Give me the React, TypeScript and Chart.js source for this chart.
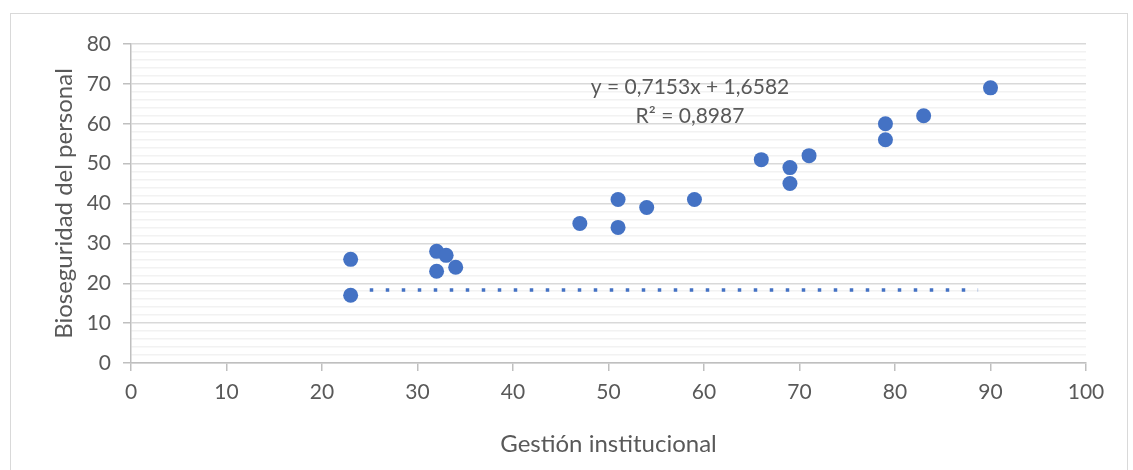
import React, { useEffect, useRef } from "react";
import { Chart, registerables } from "chart.js";

Chart.register(...registerables);

const gestionX = [23, 23, 32, 33, 32, 34, 47, 51, 51, 54, 59, 66, 69, 69, 71, 79, 79, 83, 90];
const bioseguridadY = [26, 17, 28, 27, 23, 24, 35, 41, 34, 39, 41, 51, 49, 45, 52, 60, 56, 62, 69];
const trendX = [25, 88.7];
const trendY = [18.3, 18.3];
const equationLines = ["y = 0,7153x + 1,6582", "R² = 0,8987"];
const xTitle = "Gestión institucional";
const yTitle = "Bioseguridad del personal";

const FONT = "Lato, 'Open Sans', sans-serif";
const TEXT = "#595959";

export default function App() {
  const ref = useRef<HTMLCanvasElement | null>(null);

  useEffect(() => {
    document.body.style.margin = "0";
    const canvas = ref.current;
    if (!canvas) return;

    const equationPlugin = {
      id: "equation",
      afterDatasetsDraw(chart: any) {
        const { ctx, chartArea } = chart;
        ctx.save();
        ctx.fillStyle = TEXT;
        ctx.font = `21px ${FONT}`;
        ctx.textAlign = "center";
        ctx.textBaseline = "middle";
        const cx = chartArea.left + 559;
        ctx.fillText(equationLines[0], cx, chartArea.top + 43);
        ctx.fillText(equationLines[1], cx, chartArea.top + 72);
        ctx.restore();
      },
    };

    const chart = new Chart(canvas, {
      type: "scatter",
      data: {
        datasets: [
          {
            label: "datos",
            data: gestionX.map((x, i) => ({ x, y: bioseguridadY[i] })),
            backgroundColor: "#4472C4",
            borderColor: "#4472C4",
            pointRadius: 7.5,
            pointHoverRadius: 7.5,
            borderWidth: 0,
          },
          {
            label: "tendencia",
            data: trendX.map((x, i) => ({ x, y: trendY[i] })),
            showLine: true,
            borderColor: "#4472C4",
            borderWidth: 3.5,
            borderDash: [3.5, 12.5],
            borderCapStyle: "butt",
            pointRadius: 0,
            fill: false,
          } as any,
        ],
      },
      options: {
        animation: false,
        responsive: false,
        maintainAspectRatio: false,
        layout: { padding: { left: 0, top: 44, right: 47, bottom: 0 } },
        plugins: {
          legend: { display: false },
          tooltip: { enabled: false },
        },
        scales: {
          x: {
            type: "linear",
            min: 0,
            max: 100,
            afterFit(scale: any) {
              scale.height = 107;
            },
            ticks: {
              stepSize: 10,
              color: TEXT,
              font: { family: FONT, size: 21 },
              padding: 9,
            },
            grid: {
              drawOnChartArea: false,
              color: "#bfbfbf",
              tickLength: 8,
              lineWidth: 1.5,
            },
            border: { color: "#bfbfbf", width: 1.5 },
            title: {
              display: true,
              text: xTitle,
              color: TEXT,
              font: { family: FONT, size: 24 },
              padding: { top: 0, bottom: 11 },
            },
          },
          y: {
            type: "linear",
            min: 0,
            max: 80,
            afterFit(scale: any) {
              scale.width = 131;
            },
            ticks: {
              stepSize: 2,
              autoSkip: false,
              color: TEXT,
              font: { family: FONT, size: 21 },
              padding: 12,
              callback: (v: any) => (Number(v) % 10 === 0 ? String(v) : ""),
            },
            grid: {
              color: (c: any) => (c.tick && c.tick.value % 10 === 0 ? "#d9d9d9" : "#f2f2f2"),
              tickColor: (c: any) => (c.tick && c.tick.value % 10 === 0 ? "#bfbfbf" : "rgba(0,0,0,0)"),
              lineWidth: 1.5,
              tickLength: 8,
            },
            border: { color: "#bfbfbf", width: 1.5 },
            title: {
              display: true,
              text: yTitle,
              color: TEXT,
              font: { family: FONT, size: 24 },
              padding: { top: 50, bottom: 0 },
            },
          },
        },
      },
      plugins: [equationPlugin],
    });

    return () => chart.destroy();
  }, []);

  return (
    <div style={{ position: "relative", width: 1133, height: 470, overflow: "hidden", background: "#fff" }}>
      <div
        style={{
          position: "absolute",
          left: 10,
          top: 13,
          width: 1118,
          height: 480,
          border: "1.5px solid #d9d9d9",
          boxSizing: "border-box",
        }}
      />
      <canvas ref={ref} width={1133} height={470} style={{ position: "absolute", left: 0, top: 0 }} />
    </div>
  );
}
